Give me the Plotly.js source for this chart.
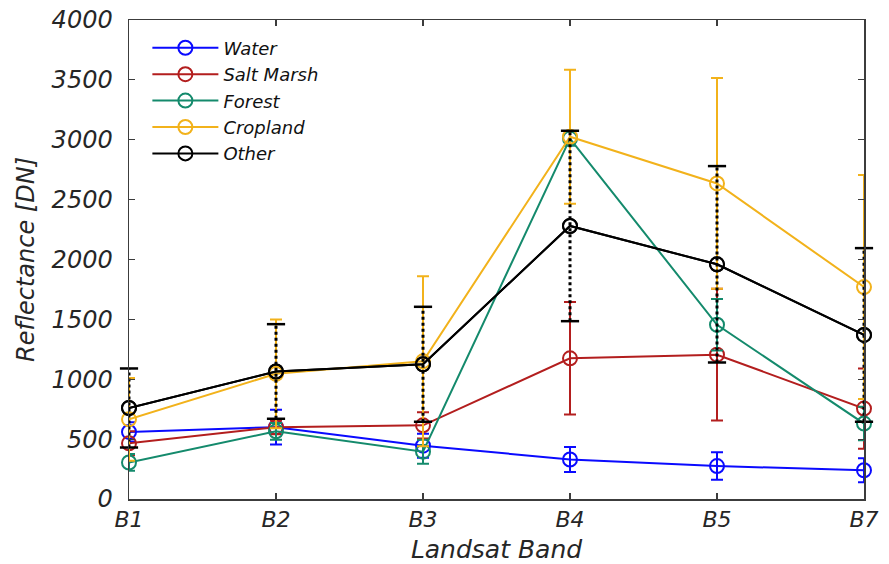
<!DOCTYPE html>
<html>
<head>
<meta charset="utf-8">
<script src="https://cdn.plot.ly/plotly-3.0.1.min.js"></script>
<style>html,body{margin:0;padding:0;background:#fff;}#chart{width:889px;height:564px;}</style>
</head>
<body>
<div id="chart"></div>
<script>
// ---- data ----
const bands = ['B1', 'B2', 'B3', 'B4', 'B5', 'B7'];

const water      = [560, 600, 445, 330, 275, 240];
const waterErr   = [80, 145, 100, 105, 115, 100];

const saltMarsh    = [465, 600, 615, 1175, 1205, 755];
const saltMarshErr = [100, 60, 110, 470, 550, 335];

const forest     = [305, 565, 395, 3010, 1455, 630];
const forestErr  = [70, 70, 100, 60, 215, 140];

const cropland    = [665, 1045, 1150, 3025, 2635, 1770];
const croplandErr = [345, 455, 710, 560, 880, 935];

const other      = [760, 1065, 1125, 2280, 1960, 1370];
const otherErr   = [330, 395, 480, 795, 820, 725];

// ---- styling ----
const FONT = 'DejaVu Sans';
const xs = bands.map((_, i) => i);

function series(name, y, err, color) {
  return {
    type: 'scatter', mode: 'lines+markers', name: name,
    x: xs, y: y, cliponaxis: false,
    line: {color: color, width: 2},
    marker: {symbol: 'circle-open', size: 14, color: color, line: {width: 2, color: color}},
    error_y: err ? {type: 'data', array: err, visible: true, color: color, thickness: 2, width: 6} : undefined
  };
}

const traces = [
  series('Water', water, waterErr, '#0a0aff'),
  series('Salt Marsh', saltMarsh, saltMarshErr, '#b31e1e'),
  series('Forest', forest, forestErr, '#148a6c'),
  series('Cropland', cropland, croplandErr, '#f2b21b'),
  series('Other', other, null, '#000000')
];

// dotted error bars for "Other"
const ex = [], ey = [], cx = [], cy = [];
xs.forEach((x, i) => {
  ex.push(x, x, null);
  ey.push(other[i] - otherErr[i], other[i] + otherErr[i], null);
  cx.push(x, x);
  cy.push(other[i] - otherErr[i], other[i] + otherErr[i]);
});
traces.push({
  type: 'scatter', mode: 'lines', x: ex, y: ey, showlegend: false, hoverinfo: 'skip',
  cliponaxis: false, line: {color: '#000', width: 3, dash: 'dot'}
});
traces.push({
  type: 'scatter', mode: 'markers', x: cx, y: cy, showlegend: false, hoverinfo: 'skip',
  cliponaxis: false,
  marker: {symbol: 'line-ew-open', size: 13, color: '#000', line: {width: 2.5, color: '#000'}}
});
// redraw Other line on top
traces.push(Object.assign(series('Other', other, null, '#000000'), {showlegend: false}));

const axisCommon = {
  showgrid: false, zeroline: false, showline: true, linecolor: '#3c3c3c', linewidth: 1.5,
  mirror: 'ticks', ticks: 'inside', ticklen: 6, tickcolor: '#3c3c3c', tickwidth: 1.2
};

const layout = {
  width: 889, height: 564,
  margin: {l: 129, r: 25, t: 20, b: 65},
  paper_bgcolor: '#ffffff', plot_bgcolor: '#ffffff',
  font: {family: FONT, style: 'italic', color: '#262626'},
  showlegend: true,
  xaxis: Object.assign({}, axisCommon, {
    range: [0, 5], tickmode: 'array', tickvals: xs, ticktext: bands,
    tickfont: {family: FONT, style: 'italic', size: 22, color: '#262626'},
    ticklabelstandoff: 0,
    title: {text: 'Landsat Band', font: {family: FONT, style: 'italic', size: 25, color: '#262626'}, standoff: 10}
  }),
  yaxis: Object.assign({}, axisCommon, {
    range: [0, 4000], tickmode: 'linear', tick0: 0, dtick: 500,
    tickfont: {family: FONT, style: 'italic', size: 24, color: '#262626'},
    ticklabelstandoff: 10,
    title: {text: 'Reflectance [DN]', font: {family: FONT, style: 'italic', size: 24, color: '#262626'}, standoff: 10}
  }),
  legend: {
    x: 0.025, y: 0.98, xanchor: 'left', yanchor: 'top',
    bgcolor: 'rgba(0,0,0,0)', borderwidth: 0,
    font: {family: FONT, style: 'italic', size: 18, color: '#111'},
    itemwidth: 66,
    tracegroupgap: 0
  }
};

Plotly.newPlot('chart', traces, layout, {displayModeBar: false, staticPlot: true});
</script>
</body>
</html>
